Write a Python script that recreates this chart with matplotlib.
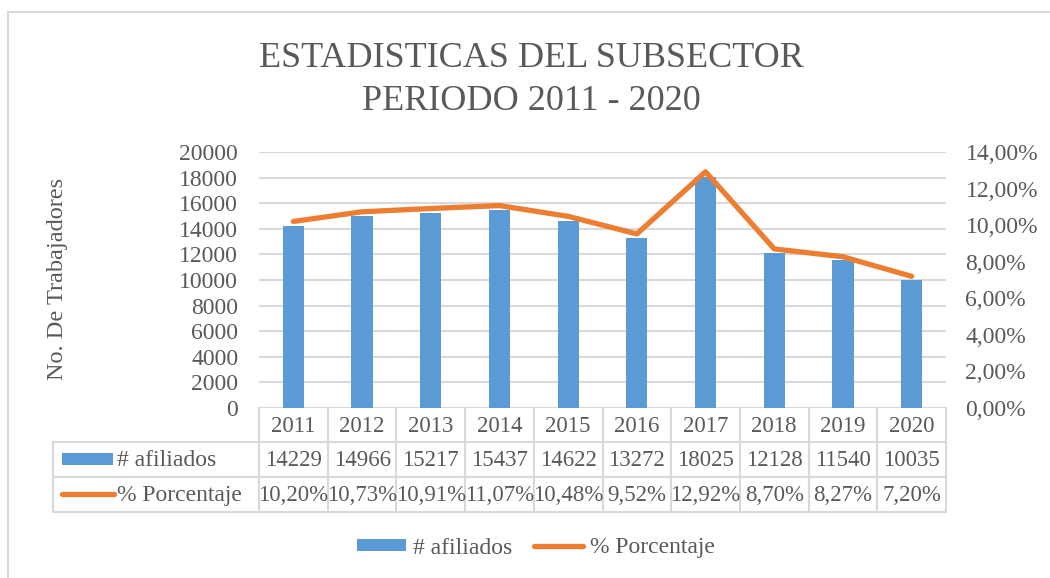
import matplotlib
matplotlib.use("Agg")
import matplotlib.pyplot as plt
from matplotlib.lines import Line2D
from matplotlib.patches import Rectangle, Patch
import matplotlib.transforms as mtransforms

years = ["2011", "2012", "2013", "2014", "2015", "2016", "2017", "2018", "2019", "2020"]
afiliados = [14229, 14966, 15217, 15437, 14622, 13272, 18025, 12128, 11540, 10035]
porcentaje = [10.20, 10.73, 10.91, 11.07, 10.48, 9.52, 12.92, 8.70, 8.27, 7.20]
left_ticks = list(range(0, 20001, 2000))
right_ticks = [0, 2, 4, 6, 8, 10, 12, 14]
title = "ESTADISTICAS DEL SUBSECTOR\nPERIODO 2011 - 2020"
ylabel = "No. De Trabajadores"
series_names = ["# afiliados", "% Porcentaje"]

BLUE = "#5B9BD5"
ORANGE = "#ED7D31"
TXT = "#595959"
GRID = "#D9D9D9"
FONT = "Liberation Serif"

W, H = 1050, 578
plt.rcParams["font.family"] = [FONT, "DejaVu Serif"]

fig = plt.figure(figsize=(W / 100, H / 100), dpi=100)

def fx(x):
    return x / W

def fy(y):
    return 1 - y / H

# outer chart frame
fig.add_artist(Rectangle((fx(8), fy(700)), fx(1200), fy(12) - fy(700), transform=fig.transFigure,
                         fill=False, edgecolor=GRID, lw=1.5))

ax_left, ax_right, ax_top, ax_bot = 259, 946, 152, 408
ax = fig.add_axes([fx(ax_left), fy(ax_bot), fx(ax_right - ax_left), fy(ax_top) - fy(ax_bot)])
x = list(range(len(years)))
ax.bar(x, afiliados, width=0.31, color=BLUE, zorder=2)
ax.set_xlim(-0.5, len(years) - 0.5)
ax.set_ylim(0, 20000)
ax.set_yticks(left_ticks)
ax.set_yticklabels([str(t) for t in left_ticks])
ax.set_xticks([])
ax.set_axisbelow(True)
ax.yaxis.grid(True, color=GRID, lw=1.5)
for s in ax.spines.values():
    s.set_visible(False)
ax.tick_params(axis="y", length=0, pad=15, labelsize=17, labelcolor=TXT)

ax2 = ax.twinx()
ax2.plot(x, [p / 100 for p in porcentaje], color=ORANGE, lw=3.8, solid_capstyle="round",
         solid_joinstyle="round", zorder=3)
ax2.set_ylim(0, 0.14)
ax2.set_yticks([t / 100 for t in right_ticks])
ax2.set_yticklabels([f"{t:.2f}%".replace(".", ",") for t in right_ticks])
for s in ax2.spines.values():
    s.set_visible(False)
ax2.tick_params(axis="y", length=0, pad=14, labelsize=17, labelcolor=TXT)

fig.text(fx(58), fy(279), ylabel, rotation=90, ha="center", va="center", fontsize=17.5, color=TXT)
fig.text(fx(531), fy(80), title, ha="center", va="center", fontsize=26, color=TXT, linespacing=1.38)

# data table
blend = mtransforms.blended_transform_factory(ax.transData, fig.transFigure)
row_y = [408, 442, 477, 512]
tbl_left = 53
n = len(years)
lw_t = 1.5
# horizontal lines
for yy in row_y[1:]:
    fig.add_artist(Line2D([fx(tbl_left), fx(ax_right)], [fy(yy), fy(yy)], transform=fig.transFigure,
                          color=GRID, lw=lw_t))
# left edge of table header column
fig.add_artist(Line2D([fx(tbl_left), fx(tbl_left)], [fy(row_y[1]), fy(row_y[3])], transform=fig.transFigure,
                      color=GRID, lw=lw_t))
# vertical column lines
for i in range(n + 1):
    fig.add_artist(Line2D([i - 0.5, i - 0.5], [fy(row_y[0]), fy(row_y[3])], transform=blend,
                          color=GRID, lw=lw_t))
for i in range(n):
    yc = [(row_y[k] + row_y[k + 1]) / 2 + 1 for k in range(3)]
    fig.text(i, fy(yc[0]), years[i], transform=blend, ha="center", va="center", fontsize=16.5, color=TXT)
    fig.text(i, fy(yc[1]), str(afiliados[i]), transform=blend, ha="center", va="center", fontsize=16.5, color=TXT)
    fig.text(i, fy(yc[2]), f"{porcentaje[i]:.2f}%".replace(".", ","), transform=blend,
             ha="center", va="center", fontsize=16.5, color=TXT)

# legend keys inside the table
fig.add_artist(Rectangle((fx(62), fy(465)), fx(51), fy(453) - fy(465), transform=fig.transFigure,
                         color=BLUE, lw=0))
fig.text(fx(117), fy(460), series_names[0], ha="left", va="center", fontsize=17, color=TXT)
fig.add_artist(Line2D([fx(62), fx(114)], [fy(494), fy(494)], transform=fig.transFigure,
                      color=ORANGE, lw=3.8, solid_capstyle="round"))
fig.text(fx(117), fy(495), series_names[1], ha="left", va="center", fontsize=17, color=TXT)

# bottom legend
handles = [Patch(facecolor=BLUE, edgecolor="none"),
           Line2D([0], [0], color=ORANGE, lw=3.8, solid_capstyle="round")]
leg = fig.legend(handles, series_names, loc="center", bbox_to_anchor=(fx(536), fy(548)), ncol=2,
                 frameon=False, fontsize=17, handlelength=2.1, handleheight=0.45, handletextpad=0.3,
                 columnspacing=0.9, borderpad=0, borderaxespad=0)
for t in leg.get_texts():
    t.set_color(TXT)

fig.savefig("out.png", dpi=100)
